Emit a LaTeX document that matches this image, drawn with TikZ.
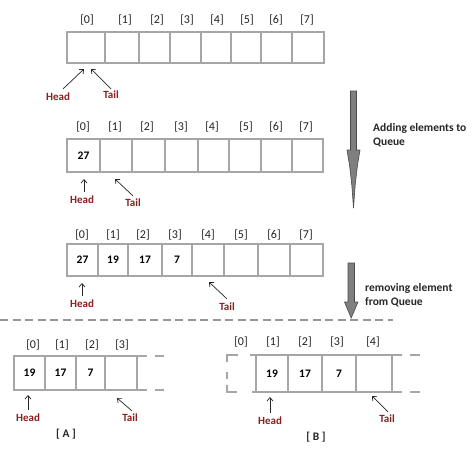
\documentclass[tikz,border=0pt]{standalone}
\usepackage{fontspec}
\setmainfont{Carlito}
\usetikzlibrary{arrows.meta}
\definecolor{cellgray}{HTML}{A6A6A6}
\definecolor{hred}{HTML}{8B1E1E}
\definecolor{idxcol}{HTML}{222222}
\definecolor{arrfill}{HTML}{7F7F7F}
\definecolor{arrline}{HTML}{4A4A4A}
\tikzset{
  cell/.style={draw=cellgray, line width=2.4pt, inner sep=0pt, outer sep=0pt, font=\bfseries\fontsize{11.5}{13}\selectfont},
  idx/.style={font=\fontsize{12}{14}\selectfont, text=idxcol, inner sep=0pt},
  ptrlab/.style={font=\bfseries\fontsize{11}{13}\selectfont, text=hred, inner sep=0pt},
  ptr/.style={line width=0.7pt, draw=black!85, -{Straight Barb[length=3.5pt,width=6pt]}},
  ext/.style={draw=cellgray, line width=2.4pt},
  side/.style={font=\bfseries\fontsize{11.5}{14}\selectfont, text=black!85, align=left, inner sep=0pt, anchor=west},
  bigarrow/.style={fill=arrfill, draw=arrline, line width=0.6pt},
  caption/.style={font=\bfseries\fontsize{11.5}{13}\selectfont, text=black!85, inner sep=0pt}
}
\begin{document}
\begin{tikzpicture}[x=1pt,y=-1pt]
\useasboundingbox (0,0) rectangle (474,467);
\fill[white] (0,0) rectangle (474,467);

% ---------- Row 1 ----------
\foreach \i/\c/\w/\lx in {0/86/38/87,1/122/34/125,2/154.5/31/157,3/185.5/31/187,4/216/30/217,5/246/30/247,6/276.5/31/276,7/308/32/307}{
  \node[cell, minimum width=\w pt, minimum height=31pt] (ra\i) at (\c,47.5) {};
  \node[idx] (ia\i) at (\lx,20) {[\i]};
}
\node[ptrlab] (ha) at (58,97) {Head};
\node[ptrlab] (ta) at (111,95) {Tail};
\coordinate (hat) at (84,69);
\coordinate (tat) at (91,69);
\draw[ptr] ([shift={(5,-4)}]ha.north) -- (hat);
\draw[ptr] ([shift={(0,-2)}]ta.north) -- (tat);

% ---------- Row 2 ----------
\foreach \i/\c/\w/\lx/\v in {0/83.5/33/83/27,1/116/32/115/,2/148.5/33/147/,3/181.5/33/181/,4/213.5/31/212/,5/245/32/246/,6/276.5/31/276/,7/307.5/31/306/}{
  \node[cell, minimum width=\w pt, minimum height=33pt] (rb\i) at (\c,155.5) {\v};
  \node[idx] (ib\i) at (\lx,127) {[\i]};
}
\node[ptrlab] (hb) at (82,200) {Head};
\node[ptrlab] (tb) at (133,203) {Tail};
\coordinate (hbt) at (84,179);
\coordinate (tbt) at (115,179);
\draw[ptr] ([shift={(2,-4)}]hb.north) -- (hbt);
\draw[ptr] ([shift={(0,-3)}]tb.north) -- (tbt);

% ---------- Row 3 ----------
\foreach \i/\c/\w/\lx/\v in {0/82.5/31/82/27,1/113/30/113/19,2/145/34/143/17,3/177/30/175/7,4/208/32/208/,5/241/34/241/,6/274/32/274/,7/306.5/33/306/}{
  \node[cell, minimum width=\w pt, minimum height=32pt] (rc\i) at (\c,260) {\v};
  \node[idx] (ic\i) at (\lx,235) {[\i]};
}
\node[ptrlab] (hc) at (82,304) {Head};
\node[ptrlab] (tc) at (227,307) {Tail};
\coordinate (hct) at (82,283);
\coordinate (tct) at (209,282);
\draw[ptr] ([shift={(0,-4)}]hc.north) -- (hct);
\draw[ptr] ([shift={(0,-4)}]tc.north) -- (tct);

% ---------- Big arrows and side texts ----------
\draw[bigarrow] (350.5,91) -- (356.5,91) -- (356.5,150) -- (360,150) -- (357.5,165)
  -- (355.2,185) -- (353.5,208) -- (351.8,185) -- (349.5,165) -- (347,150)
  -- (350.5,150) -- cycle;
\node[side] (addtxt) at (373,135) {Adding elements to\\Queue};

\draw[bigarrow] (348,263) -- (354.5,263) -- (354.5,302) -- (358,302) -- (351.2,318)
  -- (344.5,302) -- (348,302) -- cycle;
\node[side] (remtxt) at (365,295) {removing element\\from Queue};

\draw[draw=cellgray!90!black, line width=2pt, dash pattern=on 8pt off 4.5pt] (0,320) -- (393,320);

% ---------- Box A ----------
\foreach \i/\c/\w/\lx/\v in {0/29.5/31/33/19,1/60.5/31/62/17,2/90.5/29/92/7,3/121/32/122/}{
  \node[cell, minimum width=\w pt, minimum height=34pt] (rd\i) at (\c,373) {\v};
  \node[idx] (id\i) at (\lx,345) {[\i]};
}
\draw[ext] (rd3.north east) -- ++(10,0);
\draw[ext] (rd3.south east) -- ++(10,0);
\draw[ext] ([xshift=18pt]rd3.north east) -- ++(9,0);
\draw[ext] ([xshift=18pt]rd3.south east) -- ++(9,0);
\node[ptrlab] (hd) at (28,418) {Head};
\node[ptrlab] (td) at (130,418) {Tail};
\coordinate (hdt) at (28,395);
\coordinate (tdt) at (117,398);
\draw[ptr] ([shift={(0,-4)}]hd.north) -- (hdt);
\draw[ptr] ([shift={(2,-3)}]td.north) -- (tdt);
\node[caption] (capA) at (66,434) {[ A ]};

% ---------- Box B ----------
\foreach \i/\c/\w/\lx/\v in {1/272/32/273/19,2/305/34/305/17,3/339/34/337/7,4/374/36/373/}{
  \node[cell, minimum width=\w pt, minimum height=37pt] (re\i) at (\c,373.5) {\v};
  \node[idx] (ie\i) at (\lx,342) {[\i]};
}
\node[idx] (ie0) at (241,342) {[0]};
\draw[ext] (re1.north west) -- ++(-6,0);
\draw[ext] (re1.south west) -- ++(-4,0);
\draw[ext] (re4.north east) -- ++(10,0);
\draw[ext] (re4.south east) -- ++(10,0);
\draw[ext] ([xshift=18pt]re4.north east) -- ++(10,0);
\draw[ext] ([xshift=18pt]re4.south east) -- ++(10,0);
\draw[ext] (238,355) -- (227,355) -- (227,362);
\draw[ext] (237,392) -- (227,392) -- (227,385);
\draw[ext] (227,372) -- (227,379);
\node[ptrlab] (he) at (270,421) {Head};
\node[ptrlab] (te) at (387,419) {Tail};
\coordinate (het) at (270,397);
\coordinate (tet) at (372,396);
\draw[ptr] ([shift={(0,-4)}]he.north) -- (het);
\draw[ptr] ([shift={(1,-3)}]te.north) -- (tet);
\node[caption] (capB) at (316,437) {[ B ]};
\end{tikzpicture}
\end{document}
